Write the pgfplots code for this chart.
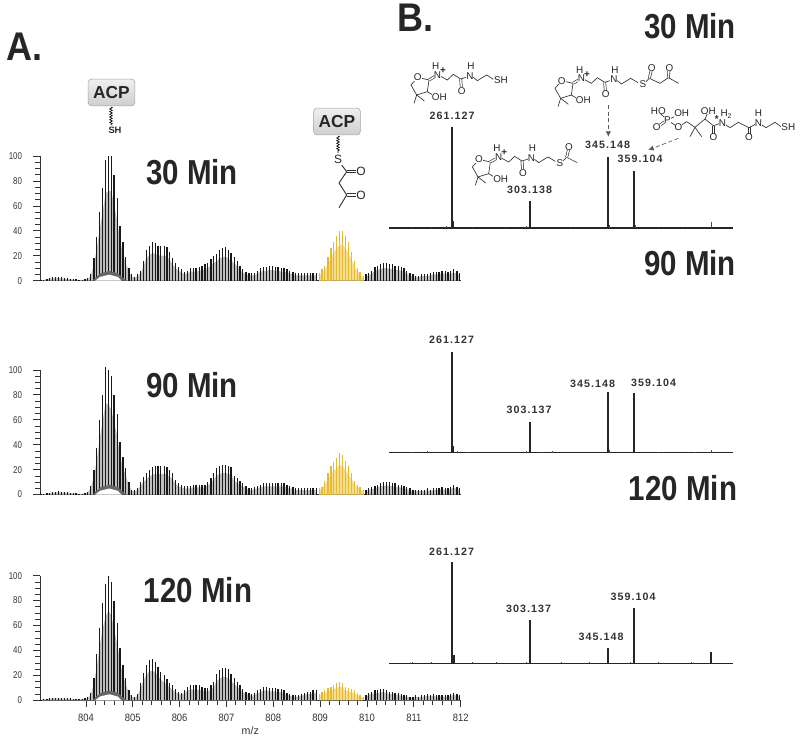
\documentclass[border=0pt]{standalone}
\usepackage{fontspec}
\setmainfont{Liberation Sans}
\newfontfamily\lblfont[LetterSpace=10]{Liberation Sans}
\usepackage{graphicx}
\usepackage{pgfplots}
\usepackage{pgfplotstable}
\pgfplotsset{compat=1.18}
\usetikzlibrary{decorations.pathmorphing,arrows.meta}
\definecolor{acyl}{RGB}{230,186,50}
\definecolor{acyllt}{RGB}{244,222,140}

% isotope envelope, relative abundance at 30, 90, 120 min
\pgfplotstableread{
mz a b c
803.04 .5 .5 .5
803.10 .8 .6 .8
803.17 1.5 1 1.4
803.23 2.2 1.5 1.8
803.29 2.6 2 2
803.35 3 2.4 2.2
803.42 2.8 2.6 2
803.48 2.6 2.2 2
803.54 2.2 2.4 1.8
803.60 2 2 1.6
803.67 1.6 1.6 1.5
803.73 1.2 1.2 1.2
803.79 1 1 1
803.85 .8 .8 1
803.92 .8 .8 1.2
803.98 1 1 1.5
804.04 2 2 2.5
804.10 5 7 6
804.17 18 20 18
804.23 35 37 37
804.29 55 60 58
804.35 74 80 78
804.42 97 102 93
804.48 100 100 100
804.54 100 95 95
804.60 85 80 80
804.67 66 65 62
804.73 44 42 42
804.79 31 30 28
804.85 19 21 18
804.92 10 10 8
804.98 5 4 4
805.04 3 4 3
805.10 5 5 5
805.17 8 10 14
805.23 16 14 22
805.29 25 17 28
805.35 28 20 32
805.42 31 22 33
805.48 30 23 31
805.54 28 23 27
805.60 28 23 23
805.67 28 23 20
805.73 27 22 17
805.79 23 20 14
805.85 18 17 12
805.92 14 12 9
805.98 11 9 7
806.04 9 8 6
806.10 7 7 8
806.17 8 7 11
806.23 10 7 12
806.29 10 8 12
806.35 10 8 12
806.42 11 8 12
806.48 12 8 11
806.54 13 8 10
806.60 14 10 10
806.67 17 13 12
806.73 20 17 15
806.79 21 21 21
806.85 25 23 24
806.92 26 24 26
806.98 27 24 26
807.04 25 23 25
807.10 22 22 21
807.17 19 15 18
807.23 16 13 15
807.29 12 11 12
807.35 9 9 9
807.42 7 7 7
807.48 6 5 6
807.54 6 5 5
807.60 6 6 6
807.67 8 7 8
807.73 10 8 9
807.79 11 9 11
807.85 11 9 11
807.92 12 9 10
807.98 12 9 10
808.04 11 9 10
808.10 11 9 9
808.17 10 9 9
808.23 10 9 8
808.29 9 8 6
808.35 8 7 5
808.42 7 6 4
808.48 6 5 4
808.54 6 5 4
808.60 6 5 5
808.67 6 5 6
808.73 6 5 7
808.79 6 5 7
808.85 6 5 8
808.92 6 5 8
808.98 6 5 5
809.04 9 6 7
809.10 12 11 8
809.17 19 17 10
809.23 26 23 11
809.29 31 26 12
809.35 36 29 14
809.42 40 33 15
809.48 40 32 14
809.54 36 27 11
809.60 31 23 10
809.67 23 17 9
809.73 16 11 8
809.79 10 8 6
809.85 7 6 4
809.92 4 4 3
809.98 5 4 4
810.04 6 5 6
810.10 8 6 7
810.17 11 7 8
810.23 12 8 8
810.29 13 9 9
810.35 14 10 9
810.42 14 10 8
810.48 13 10 7
810.54 13 9 7
810.60 12 9 6
810.67 12 8 6
810.73 11 8 5
810.79 10 7 4
810.85 8 6 4
810.92 6 5 3
810.98 5 4 3
811.04 4 4 4
811.10 4 4 3
811.17 5 4 4
811.23 5 4 4
811.29 5 5 5
811.35 6 4 4
811.42 7 5 5
811.48 7 5 4
811.54 7 5 4
811.60 8 6 4
811.67 8 5 4
811.73 7 5 4
811.79 8 6 5
811.85 9 8 6
811.92 8 6 5
811.98 6 5 4
}\spec

\pgfplotsset{
  msaxis/.style={
    scale only axis, width=315.5pt, height=93.5pt, anchor=south west,
    xmin=803.02, xmax=812, ymin=0, ymax=100, clip=false,
    axis x line=bottom, axis y line=left, axis line style={-, black!80, line width=.6pt},
    ytick={0,20,...,100}, minor y tick num=3,
    tick align=outside, major tick length=5pt, minor tick length=3.5pt,
    every tick/.style={black!80, line width=.5pt},
    tick label style={text=black!80},
    yticklabel style={font=\fontsize{7.4}{8}\selectfont, xshift=-5pt},
    yticklabel={\scalebox{.8}[1]{\pgfmathprintnumber{\tick}}},
    /pgf/number format/assume math mode=true,
  },
  noxt/.style={xtick=\empty},
  fragaxis/.style={
    scale only axis, width=258pt, height=75.75pt, anchor=south west,
    xmin=227.2, xmax=412.4, ymin=0, ymax=100, clip=false,
    axis lines=none,
  },
  fragline/.style={ycomb, black!85, mark=none, line width=.9pt},
}
% underlay and sticks for one panel; #1 is the table column
\newcommand{\spectrum}[1]{
  \addplot[draw=none, fill=gray!50, restrict x to domain=803:808.96] table[x=mz,y expr=\thisrow{#1}*0.72]{\spec} \closedcycle;
  \addplot[draw=none, fill=gray!50, restrict x to domain=809.95:812.1] table[x=mz,y expr=\thisrow{#1}*0.72]{\spec} \closedcycle;
  \addplot[draw=none, fill=acyllt, restrict x to domain=808.96:809.95] table[x=mz,y expr=\thisrow{#1}*0.72]{\spec} \closedcycle;
  \addplot[ycomb, black!90, mark=none, line width=.95pt, restrict x to domain=803:808.96] table[x=mz,y=#1]{\spec};
  \addplot[ycomb, black!90, mark=none, line width=.95pt, restrict x to domain=809.95:812.1] table[x=mz,y=#1]{\spec};
  \addplot[ycomb, acyl, mark=none, line width=.95pt, restrict x to domain=808.96:809.95] table[x=mz,y=#1]{\spec};
  \addplot[draw=none, fill=black!60] coordinates {(804.14,0)(804.22,3)(804.32,6)(804.5,7.8)(804.68,6)(804.8,2)(804.88,0)} \closedcycle;
  \addplot[draw=none, fill=white] coordinates {(804.2,0)(804.3,3)(804.5,4.8)(804.68,3)(804.76,0)} \closedcycle;
}

\tikzset{
  atom/.style={font=\fontsize{7.4}{7.4}\selectfont, inner sep=0pt, fill=white, text=black!85},
  bond/.style={line width=.5pt, black!80},
  dbl/.style={double, double distance=1.1pt, line width=.5pt, black!80},
  ttl/.style={font=\fontsize{26}{26}\selectfont\bfseries, text=black!85, inner sep=0pt},
  mass/.style={font=\fontsize{8}{8}\lblfont\bfseries, text=black!80, inner sep=0pt},
  acp/.style={draw=gray!70, top color=gray!12, bottom color=gray!38, rounded corners=2.5pt,
    minimum width=35pt, minimum height=20pt, inner sep=0pt, line width=.4pt,
    font=\fontsize{13}{13}\selectfont\bfseries, text=black!85},
  wavy/.style={decorate, decoration={coil, aspect=0, segment length=2pt, amplitude=1pt}, line width=.45pt},
}
% pantetheine head group in zoom coordinates, up to the amide nitrogen
\newcommand{\pant}{
  \draw[bond] (83,112)--(63,135)--(80,165)--(112,155)--(117,120)--(83,112);
  \draw[bond] (112,155)--(130,166);
  \draw[bond] (80,165)--(72,190) (80,165)--(103,183);
  \draw[dbl] (117,120)--(134,110);
  \draw[bond] (150,108)--(172,120)--(190,103)--(212,117);
  \draw[dbl] (212,117)--(214,142);
  \draw[bond] (212,117)--(240,108);
  \node[atom] at (83,112) {O};
  \node[atom] at (148,170) {OH};
  \node[atom] at (142,105) {N};
  \node[atom] at (137,79) {H};
  \node[atom, fill=none] at (159,93) {\textbf{+}};
  \node[atom] at (215,152) {O};
  \node[atom] at (240,108) {N};
  \node[atom] at (243,79) {H};
}

\begin{document}
\begin{tikzpicture}
\path[use as bounding box, fill=white] (0,0) rectangle (600pt,-559.5pt);

% ===== panel A =====
\begin{axis}[msaxis, noxt, at={(30pt,-210.5pt)}]
  \spectrum{a}
\end{axis}
\begin{axis}[msaxis, noxt, at={(30pt,-370.9pt)}]
  \spectrum{b}
\end{axis}
\begin{axis}[msaxis, at={(30pt,-525.2pt)},
  xtick={804,...,812}, minor x tick num=4,
  xticklabel style={font=\fontsize{8}{9}\selectfont, yshift=-2pt},
  xticklabel={\scalebox{.88}[1]{\pgfmathprintnumber[1000 sep=]{\tick}}},
  xlabel={m/z}, xlabel style={font=\fontsize{8}{9}\selectfont, text=black!80, yshift=3pt}]
  \spectrum{c}
\end{axis}

% ===== panel B =====
\begin{axis}[fragaxis, at={(291.75pt,-171pt)}]
  \addplot[black!85, line width=.8pt] coordinates {(227.2,0)(412.4,0)};
  \addplot[fragline] coordinates {(261.127,100)(262.0,7)(303.138,26.7)(345.148,70.3)(359.104,56.4)};
  \addplot[ycomb, black!70, line width=.5pt] coordinates {(240,1)(250,1.2)(258,1.5)(272,1)(290,1.2)(301,1.5)(325,1)(346,3)(360,3)(372,1)(385,1)(400.5,5.9)};
\end{axis}
\begin{axis}[fragaxis, at={(291.75pt,-339.5pt)}]
  \addplot[black!85, line width=.8pt] coordinates {(227.2,0)(412.4,0)};
  \addplot[fragline] coordinates {(261.127,100)(262.0,7)(303.137,30.7)(345.148,60.1)(359.104,58.7)};
  \addplot[ycomb, black!70, line width=.5pt] coordinates {(240,1)(248,1.2)(264,1.5)(270,1)(301,1.5)(310,1)(315,1.2)(346,3)(372,1)(392,1)(400.5,3)};
\end{axis}
\begin{axis}[fragaxis, at={(291.75pt,-497.6pt)}]
  \addplot[black!85, line width=.8pt] coordinates {(227.2,0)(412.4,0)};
  \addplot[fragline] coordinates {(261.127,100)(262.2,8)(303.137,42.9)(345.148,14.9)(359.104,54.5)(400.5,10.9)};
  \addplot[ycomb, black!70, line width=.5pt] coordinates {(240,1)(250,1.2)(272,1)(285,1.2)(301,1.5)(320,1)(335,1)(357,1.5)(372,1)(390,1.2)};
\end{axis}

\begin{scope}[x=0.75pt,y=-0.75pt]
  % panel letters and time labels
  \node[ttl, font=\fontsize{30}{30}\selectfont\bfseries, anchor=west] at (6,47) {\scalebox{.9}[1]{A.}};
  \node[ttl, font=\fontsize{30}{30}\selectfont\bfseries, anchor=west] at (397,18) {\scalebox{.9}[1]{B.}};
  \node[ttl] at (192,172) {\scalebox{.85}[1]{30 Min}};
  \node[ttl] at (192,385) {\scalebox{.85}[1]{90 Min}};
  \node[ttl] at (198,590) {\scalebox{.85}[1]{120 Min}};
  \node[ttl] at (690,26) {\scalebox{.85}[1]{30 Min}};
  \node[ttl] at (690,263) {\scalebox{.85}[1]{90 Min}};
  \node[ttl] at (683,488) {\scalebox{.85}[1]{120 Min}};

  % fragment masses
  \node[mass] at (452,116) {261.127};
  \node[mass] at (529.7,189.7) {303.138};
  \node[mass] at (607.7,145.3) {345.148};
  \node[mass] at (640,159.3) {359.104};
  \node[mass] at (451.7,340) {261.127};
  \node[mass] at (529,410.3) {303.137};
  \node[mass] at (592.7,383.7) {345.148};
  \node[mass] at (653.7,383.3) {359.104};
  \node[mass] at (451.7,551.7) {261.127};
  \node[mass] at (528.7,609) {303.137};
  \node[mass] at (601,636.7) {345.148};
  \node[mass] at (633,596.7) {359.104};

  % ACP cartoons
  \node[acp] at (111.5,92.5) {ACP};
  \draw[wavy] (111,107)--(111,125);
  \node[font=\fontsize{7}{7}\selectfont\bfseries, text=black!85] at (115,130) {SH};
  \node[acp] at (337,121.5) {ACP};
  \draw[wavy] (338,136)--(338,153);
  \draw[bond, line width=.7pt] (341.7,165)--(346.7,171.7)--(339,183)--(346.7,195)--(339,207.7);
  \draw[bond] (346.7,170)--(356,170) (346.7,172.6)--(356,172.6);
  \draw[bond] (346.7,193.7)--(356,193.7) (346.7,196.3)--(356,196.3);
  \node[font=\fontsize{9}{9}\selectfont, text=black!85, inner sep=0pt] at (338,159) {S};
  \node[font=\fontsize{9}{9}\selectfont, text=black!85, inner sep=0pt] at (361,171) {O};
  \node[font=\fontsize{9}{9}\selectfont, text=black!85, inner sep=0pt] at (361,195) {O};
\end{scope}

% ===== structures, in units of a third of a pixel =====
\begin{scope}[shift={(292.5pt,-30pt)}, x=.25pt, y=-.25pt]
  \begin{scope}
    \pant
    \draw[bond] (250,112)--(262,122)--(290,105)--(310,118);
    \node[atom] at (333,120) {SH};
  \end{scope}
  \begin{scope}[shift={(432,10)}]
    \pant
    \draw[bond] (250,112)--(262,122)--(290,105)--(312,118) (333,118)--(346,105)--(378,120)--(403,103)--(434,120);
    \draw[dbl] (346,105)--(352,80);
    \draw[dbl] (403,103)--(405,80);
    \node[atom] at (327,122) {S};
    \node[atom] at (353,73) {O};
    \node[atom] at (406,73) {O};
  \end{scope}
  \begin{scope}[shift={(184,246)}]
    \pant
    \draw[bond] (250,112)--(262,122)--(290,105)--(312,118) (333,118)--(346,106)--(378,122);
    \draw[dbl] (346,106)--(352,81);
    \node[atom] at (326,122) {S};
    \node[atom] at (353,74) {O};
  \end{scope}
  % phospho-pantetheine
  \draw[bond] (832,240)--(865,262)--(890,245)--(915,262)--(945,237)--(970,257)--(997,248)--(1020,263)--(1045,247)--(1077,263)--(1105,248)--(1128,263)--(1155,247)--(1175,262);
  \draw[bond] (832,240)--(805,215) (832,240)--(870,222);
  \draw[bond] (915,262)--(900,290) (915,262)--(935,290) (945,237)--(955,215);
  \draw[dbl] (832,240)--(806,258);
  \draw[bond] (967,259)--(967,283) (973,259)--(973,283);
  \draw[bond] (1074,262)--(1074,283) (1080,262)--(1080,283);
  \node[atom] at (805,213) {HO};
  \node[atom] at (832,240) {P};
  \node[atom] at (875,220) {OH};
  \node[atom] at (800,262) {O};
  \node[atom] at (865,262) {O};
  \node[atom] at (955,213) {OH};
  \node[atom] at (970,292) {O};
  \node[atom] at (997,250) {N};
  \node[atom, fill=none] at (980,236) {\textbf{*}};
  \node[atom] at (1009,222) {H\textsubscript{2}};
  \node[atom] at (1077,292) {O};
  \node[atom] at (1105,250) {N};
  \node[atom] at (1105,220) {H};
  \node[atom] at (1195,260) {SH};
  % arrows to the peaks
  \draw[black!65, densely dashed, line width=.5pt, -{Latex[length=4pt,width=4pt]}] (655,195)--(655,290);
  \draw[black!65, densely dashed, line width=.5pt, -{Latex[length=4pt,width=4pt]}] (865,295)--(775,330);
\end{scope}
\end{tikzpicture}
\end{document}
